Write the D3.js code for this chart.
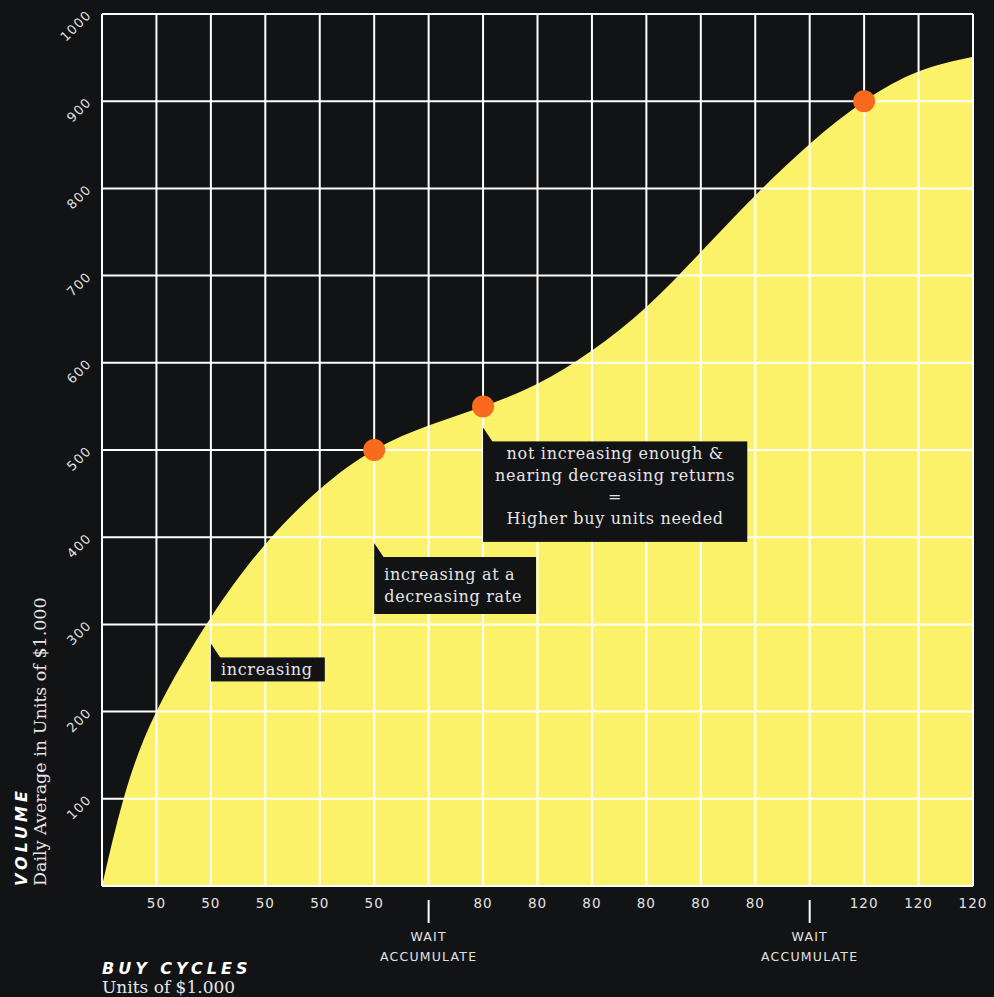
<!DOCTYPE html>
<html>
<head>
<meta charset="utf-8">
<script src="https://cdn.jsdelivr.net/npm/d3@7"></script>
<style>
  html, body { margin: 0; padding: 0; background: #121315; }
  svg { display: block; }
</style>
</head>
<body>
<div id="chart"></div>
<script>
const W = 994, H = 997;
const margin = { top: 14, right: 21, bottom: 111, left: 102 };
const width = W - margin.left - margin.right;
const height = H - margin.top - margin.bottom;

// x positions of the buy cycles (0 = origin) and their tick labels
const cycleTicks = d3.range(0, 17);
const cycleLabels = ["", "50", "50", "50", "50", "50", "WAIT|ACCUMULATE",
  "80", "80", "80", "80", "80", "80", "WAIT|ACCUMULATE", "120", "120", "120"];

// volume curve
const curveX = [0, 0.4, 1, 2, 3, 4, 5, 6, 7, 8, 9, 10, 11, 12, 13, 14, 15, 16];
const volume = [0, 101, 200, 308, 392, 455, 500, 528, 550, 576, 614, 664, 727, 792, 851, 900, 934, 951];

const volumeTicks = [100, 200, 300, 400, 500, 600, 700, 800, 900, 1000];

// highlighted points
const dotX = [5, 7, 14];
const dotValue = [500, 550, 900];

// annotations
const noteX = [2, 5, 7];
const noteValue = [308, 500, 550];
const noteLines = [
  ["increasing"],
  ["increasing at a", "decreasing rate"],
  ["not increasing enough &", "nearing decreasing returns", "=", "Higher buy units needed"]
];

const serif = "'DejaVu Serif', serif";
const sans = "'DejaVu Sans', sans-serif";

const svg = d3.select("#chart").append("svg")
  .attr("width", W)
  .attr("height", H);

const g = svg.append("g")
  .attr("transform", `translate(${margin.left},${margin.top})`);

const x = d3.scaleLinear().domain([0, 16]).range([0, width]);
const y = d3.scaleLinear().domain([0, 1000]).range([height, 0]);

// area
const pts = curveX.map((c, i) => ({ c, v: volume[i] }));
const area = d3.area()
  .x((d) => x(d.c))
  .y0(height)
  .y1((d) => y(d.v))
  .curve(d3.curveNatural);

g.append("path")
  .datum(pts)
  .attr("d", area)
  .attr("fill", "#fcf26a");

// grid
g.append("g")
  .selectAll("line")
  .data(cycleTicks)
  .join("line")
  .attr("x1", (d) => x(d))
  .attr("x2", (d) => x(d))
  .attr("y1", 0)
  .attr("y2", height)
  .attr("stroke", "#fff")
  .attr("stroke-width", 2);

g.append("g")
  .selectAll("line")
  .data([0].concat(volumeTicks))
  .join("line")
  .attr("x1", 0)
  .attr("x2", width)
  .attr("y1", (d) => y(d))
  .attr("y2", (d) => y(d))
  .attr("stroke", "#fff")
  .attr("stroke-width", 2);

// y tick labels (rotated)
g.append("g")
  .selectAll("text")
  .data(volumeTicks)
  .join("text")
  .attr("transform", (d) => `translate(-10,${y(d) + 2}) rotate(-45)`)
  .attr("text-anchor", "end")
  .attr("font-family", sans)
  .attr("font-size", 13)
  .attr("letter-spacing", 1)
  .attr("fill", "#e2e2e2")
  .text((d) => d);

// x tick labels
const xt = g.append("g").attr("transform", `translate(0,${height})`);
cycleTicks.forEach((t, i) => {
  const lab = cycleLabels[i];
  if (!lab) return;
  if (lab.indexOf("|") >= 0) {
    xt.append("line")
      .attr("x1", x(t)).attr("x2", x(t))
      .attr("y1", 14).attr("y2", 37)
      .attr("stroke", "#fff")
      .attr("stroke-width", 2);
    lab.split("|").forEach((s, j) => {
      xt.append("text")
        .attr("x", x(t))
        .attr("y", 55 + j * 20)
        .attr("text-anchor", "middle")
        .attr("font-family", sans)
        .attr("font-size", 12.5)
        .attr("letter-spacing", 1.2)
        .attr("fill", "#e2e2e2")
        .text(s);
    });
  } else {
    xt.append("text")
      .attr("x", x(t))
      .attr("y", 22)
      .attr("text-anchor", "middle")
      .attr("font-family", sans)
      .attr("font-size", 13.5)
      .attr("letter-spacing", 1)
      .attr("fill", "#e2e2e2")
      .text(lab);
  }
});

// annotations
const noteLayout = [
  { tip: 26, top: 14, pad: 11, lh: 22, first: 18, bottomPad: 6, align: "start" },
  { tip: 93, top: 14, pad: 12, lh: 22, first: 23, bottomPad: 12, align: "start" },
  { tip: 21, top: 14, pad: 12, lh: 21.5, first: 18, bottomPad: 18, align: "middle" }
];

noteLines.forEach((lines, i) => {
  const L = noteLayout[i];
  const ax = x(noteX[i]);
  const tipY = y(noteValue[i]) + L.tip;
  const boxTop = tipY + L.top;
  const ng = g.append("g");
  const box = ng.append("rect").attr("fill", "#121315");
  const ptr = ng.append("path").attr("fill", "#121315");
  const txt = ng.append("g");
  lines.forEach((s, j) => {
    txt.append("text")
      .attr("y", boxTop + L.first + j * L.lh)
      .attr("font-family", serif)
      .attr("font-size", 16)
      .attr("letter-spacing", 0.7)
      .attr("fill", "#e6e6e6")
      .attr("text-anchor", L.align === "middle" ? "middle" : "start")
      .text(s);
  });
  let maxW = 0;
  txt.selectAll("text").each(function () {
    maxW = Math.max(maxW, this.getComputedTextLength());
  });
  const boxW = maxW + 2 * L.pad;
  txt.selectAll("text").attr("x", L.align === "middle" ? ax + boxW / 2 : ax + 10);
  const boxH = L.first + (lines.length - 1) * L.lh + L.bottomPad;
  box.attr("x", ax).attr("y", boxTop).attr("width", boxW).attr("height", boxH);
  ptr.attr("d", `M${ax},${tipY}L${ax + 10},${boxTop + 1}L${ax},${boxTop + 1}Z`);
});

// dots
g.append("g")
  .selectAll("circle")
  .data(dotX)
  .join("circle")
  .attr("cx", (d) => x(d))
  .attr("cy", (d, i) => y(dotValue[i]))
  .attr("r", 11)
  .attr("fill", "#f96a1f");

// axis titles
svg.append("text")
  .attr("transform", "translate(27,886) rotate(-90)")
  .attr("font-family", sans)
  .attr("font-size", 16)
  .attr("font-weight", "bold")
  .attr("font-style", "italic")
  .attr("letter-spacing", 4)
  .attr("fill", "#fff")
  .text("VOLUME");

svg.append("text")
  .attr("transform", "translate(46,886) rotate(-90)")
  .attr("font-family", serif)
  .attr("font-size", 17.5)
  .attr("fill", "#e6e6e6")
  .text("Daily Average in Units of $1.000");

svg.append("text")
  .attr("x", 102)
  .attr("y", 974)
  .attr("font-family", sans)
  .attr("font-size", 16)
  .attr("font-weight", "bold")
  .attr("font-style", "italic")
  .attr("letter-spacing", 4)
  .attr("fill", "#fff")
  .text("BUY CYCLES");

svg.append("text")
  .attr("x", 102)
  .attr("y", 993)
  .attr("font-family", serif)
  .attr("font-size", 17)
  .attr("fill", "#e6e6e6")
  .text("Units of $1.000");
</script>
</body>
</html>
